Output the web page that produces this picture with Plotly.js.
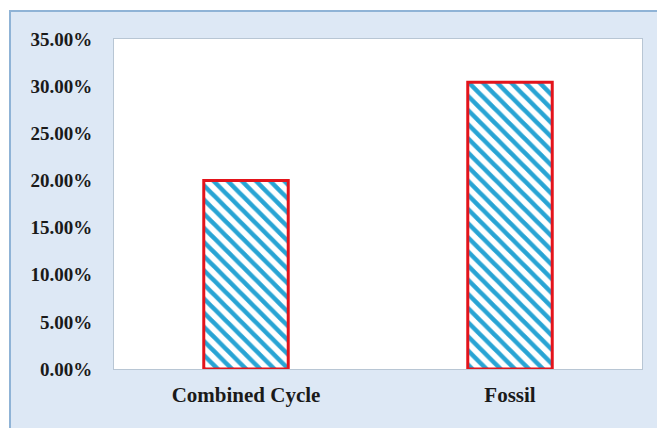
<!DOCTYPE html>
<html>
<head>
<meta charset="utf-8">
<script src="https://cdn.plot.ly/plotly-3.0.1.min.js"></script>
<style>
html,body{margin:0;padding:0;background:#ffffff;}
#bg{position:absolute;left:9px;top:10px;width:660px;height:430px;background:#dde8f5;border-left:2px solid #8fb3d6;border-top:2px solid #8fb3d6;}
#chart{position:absolute;left:0;top:0;width:657px;height:428px;}
</style>
</head>
<body>
<div id="bg"></div>
<div id="chart"></div>
<script>
const categories = ["Combined Cycle", "Fossil"];
const values = [0.200, 0.304];
const tickValues = [0, 0.05, 0.10, 0.15, 0.20, 0.25, 0.30, 0.35];

const yFont = {family: "Liberation Serif, Times New Roman, serif", size: 19, color: "#1a1a1a", weight: "bold"};
const xFont = {family: "Liberation Serif, Times New Roman, serif", size: 21, color: "#1a1a1a", weight: "bold"};

Plotly.newPlot("chart", [{
  type: "bar",
  x: categories,
  y: values,
  width: 0.32,
  marker: {
    color: "#ffffff",
    line: {color: "#e3141b", width: 3},
    pattern: {shape: "\\", fgcolor: "#28a4d4", bgcolor: "#ffffff", size: 10, solidity: 0.45}
  },
  hoverinfo: "none"
}], {
  width: 657, height: 428,
  margin: {l: 114, r: 15, t: 39, b: 59},
  paper_bgcolor: "rgba(0,0,0,0)",
  plot_bgcolor: "#ffffff",
  showlegend: false,
  font: yFont,
  xaxis: {
    showline: true, mirror: true, linecolor: "#b8c6d4", linewidth: 1,
    ticks: "", ticklabelstandoff: 7,
    tickfont: xFont
  },
  yaxis: {
    range: [0, 0.35], tickvals: tickValues, tickformat: ".2%",
    showgrid: false, zeroline: false,
    showline: true, mirror: true, linecolor: "#b8c6d4", linewidth: 1,
    ticks: "", ticklabelstandoff: 17,
    tickfont: yFont
  }
}, {staticPlot: true});
</script>
</body>
</html>
